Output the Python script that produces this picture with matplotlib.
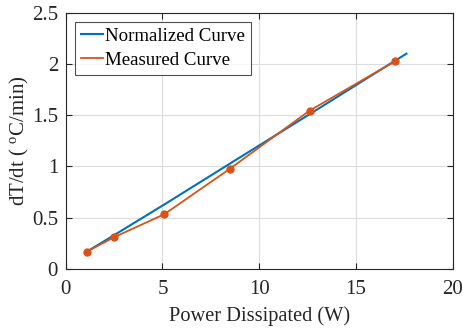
import matplotlib
matplotlib.use("Agg")
import matplotlib.pyplot as plt

norm_x = [1.1, 2.5, 5.1, 8.5, 12.6, 17.0, 17.6]
norm_y = [0.17, 0.33, 0.63, 1.03, 1.51, 2.03, 2.10]
meas_x = [1.1, 2.5, 5.1, 8.5, 12.6, 17.0]
meas_y = [0.17, 0.31, 0.535, 0.98, 1.545, 2.025]
xticks = [0, 5, 10, 15, 20]
yticks = [0, 0.5, 1, 1.5, 2, 2.5]
ytick_labels = ["0", "0.5", "1", "1.5", "2", "2.5"]

plt.rcParams['font.family'] = ['Liberation Serif', 'DejaVu Serif']
plt.rcParams['mathtext.fontset'] = 'custom'
plt.rcParams['mathtext.rm'] = 'Liberation Serif'

fig = plt.figure(figsize=(4.64, 3.29), dpi=100)
ax = fig.add_axes([0.1416, 0.1824, 0.976 - 0.1416, 0.9614 - 0.1824])

ax.plot(norm_x, norm_y, color='#0072BD', lw=1.5, label='Normalized Curve')
ax.plot(meas_x, meas_y, color='#D95319', lw=1.3, marker='o', ms=5, label='Measured Curve')

ax.set_xlim(0, 20)
ax.set_ylim(0, 2.5)
ax.set_xticks(xticks)
ax.set_yticks(yticks)
ax.set_yticklabels(ytick_labels)
ax.grid(True, color='#dcdcdc', lw=0.8)
ax.set_axisbelow(True)
ax.tick_params(direction='in', labelsize=15, length=4, width=0.8, top=True, right=True,
               colors='#262626', pad=5.5)
ax.tick_params(axis='x', pad=8)
for s in ax.spines.values():
    s.set_color('#262626')
    s.set_linewidth(0.8)
ax.set_xlabel('Power Dissipated (W)', fontsize=14.7, color='#262626', labelpad=5.5)
ax.set_ylabel(r'dT/dt ( $\mathregular{^o}$C/min)', fontsize=15, color='#262626', labelpad=1)

leg = ax.legend(loc='upper left', fontsize=13.6, frameon=True, fancybox=False,
                edgecolor='#262626', handlelength=1.2, handletextpad=0.1,
                borderpad=0.3, labelspacing=0.35, borderaxespad=0.5)
leg.get_frame().set_linewidth(0.8)
for h in leg.get_lines():
    h.set_marker('')

fig.savefig('out.png', dpi=100)
